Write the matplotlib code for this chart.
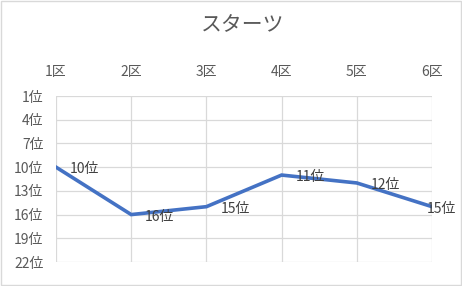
import matplotlib.pyplot as plt
from matplotlib.patches import Rectangle

plt.rcParams['font.family'] = ['Noto Sans CJK JP', 'DejaVu Sans']

# data
sections = ['1区', '2区', '3区', '4区', '5区', '6区']
ranks = [10, 16, 15, 11, 12, 15]
rank_ticks = [1, 4, 7, 10, 13, 16, 19, 22]

fig = plt.figure(figsize=(4.62, 2.86), dpi=100)
fig.patch.set_facecolor('white')
fig.patches.append(Rectangle((0.002, 0.003), 0.996, 0.994, transform=fig.transFigure,
                             fill=False, edgecolor='#d9d9d9', linewidth=1))

ax = fig.add_axes([0.1212, 0.0839, 0.8139, 0.5804])
x = list(range(1, len(sections) + 1))
ax.plot(x, ranks, color='#4472C4', linewidth=2.6, solid_joinstyle='miter')

ax.set_xlim(1, len(sections))
ax.set_ylim(22, 1)
ax.set_xticks(x)
ax.set_xticklabels(sections)
ax.set_yticks(rank_ticks)
ax.set_yticklabels([f'{r}位' for r in rank_ticks])
ax.xaxis.tick_top()
ax.tick_params(axis='x', length=0, pad=12, labelsize=10, labelcolor='#595959')
ax.tick_params(axis='y', length=0, pad=9, labelsize=10, labelcolor='#595959')
ax.grid(True, color='#d9d9d9', linewidth=0.9)
for s in ax.spines.values():
    s.set_visible(False)

# data labels, to the right of each point (last one pulled inside)
for i, r in enumerate(ranks):
    dx = 10 if i < len(ranks) - 1 else -4
    ax.annotate(f'{r}位', (x[i], r), xytext=(dx, -1.5), textcoords='offset points',
                ha='left', va='center', fontsize=10, color='#404040')

# title centred over the plot area
fig.text(243 / 462, 1 - 25 / 286, 'スターツ', ha='center', va='center',
         fontsize=15, color='#595959')

fig.savefig('out.png', dpi=100)
